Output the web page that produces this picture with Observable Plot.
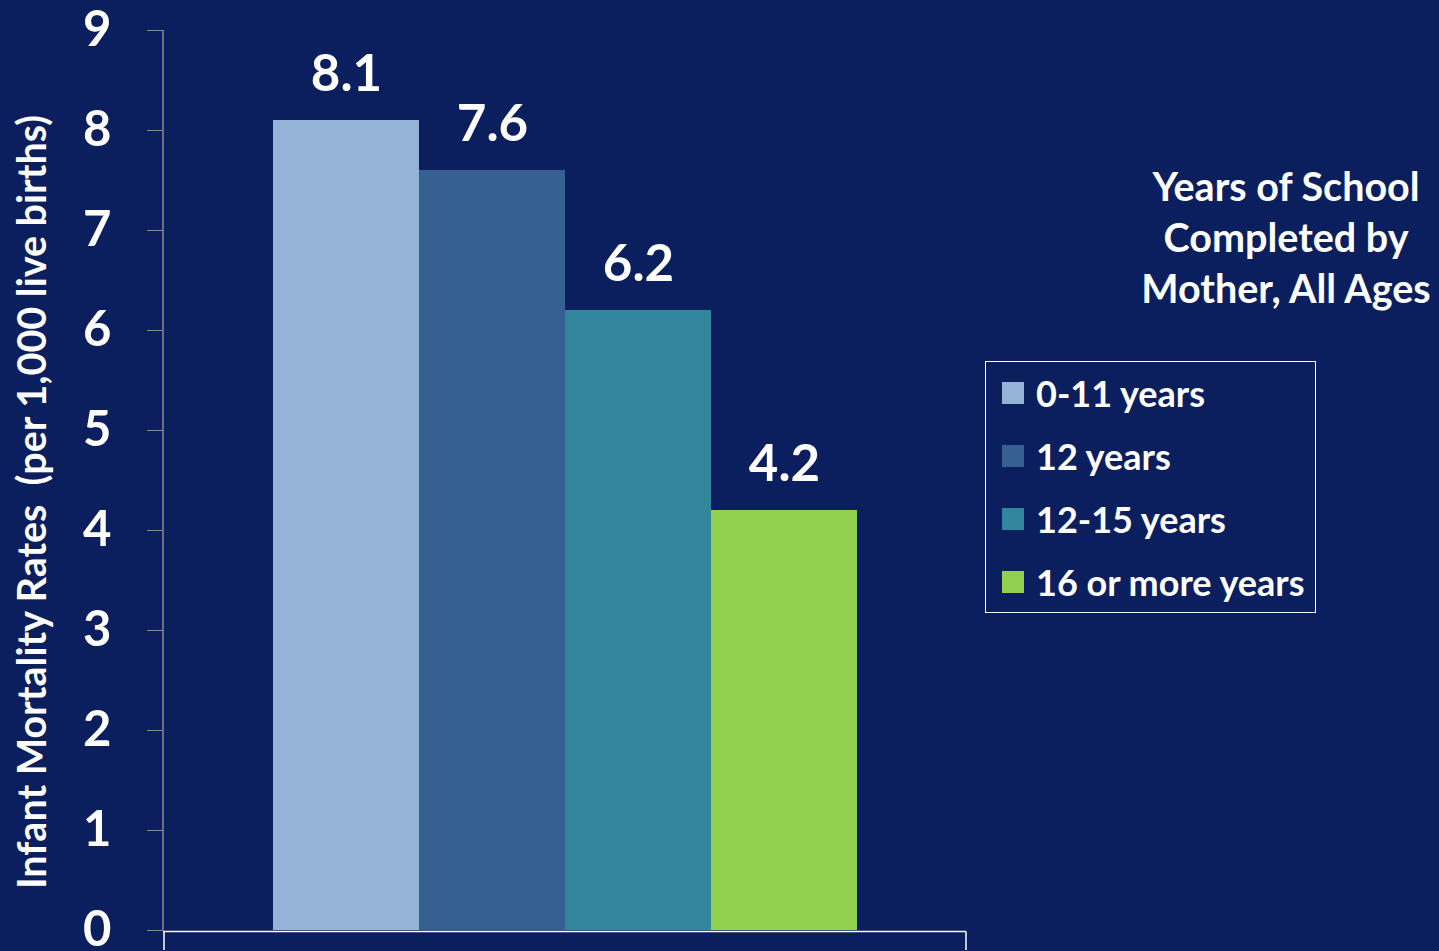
<!DOCTYPE html>
<html>
<head>
<meta charset="utf-8">
<script src="https://cdn.jsdelivr.net/npm/d3@7"></script>
<script src="https://cdn.jsdelivr.net/npm/@observablehq/plot@0.6"></script>
<style>
  html, body { margin: 0; padding: 0; background: #0B1F5E; }
  body { width: 1439px; height: 951px; overflow: hidden; font-family: Lato, "Open Sans", sans-serif; }
  #wrap { position: relative; width: 1439px; height: 951px; }
  #title { position: absolute; left: 1126px; width: 320px; top: 160px; text-align: center; color: #fff;
           font-weight: 700; font-size: 39.5px; line-height: 51px; white-space: nowrap; }
  #legend { position: absolute; left: 985px; top: 361px; width: 329px; height: 250px; border: 1.5px solid #fff; }
  .item { position: absolute; left: 16px; height: 40px; display: flex; align-items: center; color: #fff;
          font-weight: 700; font-size: 36px; white-space: nowrap; }
  .sw { width: 22px; height: 22px; margin-right: 12px; }
</style>
</head>
<body>
<div id="wrap"></div>
<script>
const categories = ["0-11 years", "12 years", "12-15 years", "16 or more years"];
const rates = [8.1, 7.6, 6.2, 4.2];
const colors = ["#95B3D7", "#376092", "#31859C", "#92D050"];
const yTicks = [0, 1, 2, 3, 4, 5, 6, 7, 8, 9];
const yLabel = "Infant Mortality Rates  (per 1,000 live births)";
const legendTitle = ["Years of School", "Completed by", "Mother, All Ages"];

const data = categories.map((c, i) => ({category: c, rate: rates[i]}));

const plot = Plot.plot({
  width: 1439,
  height: 951,
  marginLeft: 163,
  marginRight: 473,
  marginTop: 30,
  marginBottom: 21,
  style: {background: "#0B1F5E", fontFamily: "Lato, 'Open Sans', sans-serif", overflow: "visible"},
  x: {domain: categories, range: [273, 857], paddingInner: 0, paddingOuter: 0, axis: null},
  y: {domain: [0, 9], axis: null},
  color: {domain: categories, range: colors},
  marks: [
    Plot.barY(data, {x: "category", y: "rate", fill: "category", inset: 0}),
    Plot.text(data, {x: "category", y: "rate", text: d => d.rate.toFixed(1), dy: -46,
      fill: "white", fontSize: 51, fontWeight: 700}),
    Plot.axisY({ticks: yTicks, tickSize: 16, tickPadding: 36, stroke: "#8C8C8C", fill: "white",
      fontSize: 49, fontWeight: 700, label: null, tickFormat: d3.format("d")})
  ]
});

const wrap = document.getElementById("wrap");
wrap.appendChild(plot);

// axis lines drawn from the scales
const svg = d3.select(plot);
const ys = plot.scale("y");
const y0 = ys.apply(0), y9 = ys.apply(9);
const left = 163, right = 1439 - 473;
svg.append("line").attr("x1", left).attr("x2", left).attr("y1", y9).attr("y2", y0)
  .attr("stroke", "#8C8C8C").attr("stroke-width", 1.5);
svg.append("line").attr("x1", left).attr("x2", right).attr("y1", y0 + 1.5).attr("y2", y0 + 1.5)
  .attr("stroke", "white").attr("stroke-width", 1.5);
svg.append("line").attr("x1", left + 1).attr("x2", left + 1).attr("y1", y0 + 1.5).attr("y2", y0 + 20)
  .attr("stroke", "white").attr("stroke-width", 1.5);
svg.append("line").attr("x1", right).attr("x2", right).attr("y1", y0 + 1.5).attr("y2", y0 + 20)
  .attr("stroke", "white").attr("stroke-width", 1.5);
svg.append("text")
  .attr("transform", `translate(30, ${(y0 + y9) / 2 + 22}) rotate(-90)`)
  .attr("text-anchor", "middle").attr("dominant-baseline", "central")
  .attr("fill", "white").attr("font-size", 39.5).attr("font-weight", 700)
  .style("white-space", "pre")
  .text(yLabel);

// legend title
const title = document.createElement("div");
title.id = "title";
title.innerHTML = legendTitle.join("<br>");
wrap.appendChild(title);

// legend
const legend = document.createElement("div");
legend.id = "legend";
categories.forEach((c, i) => {
  const it = document.createElement("div");
  it.className = "item";
  it.style.top = (11 + i * 63) + "px";
  const sw = document.createElement("div");
  sw.className = "sw";
  sw.style.background = colors[i];
  const tx = document.createElement("span");
  tx.textContent = c;
  it.appendChild(sw); it.appendChild(tx);
  legend.appendChild(it);
});
wrap.appendChild(legend);
</script>
</body>
</html>
